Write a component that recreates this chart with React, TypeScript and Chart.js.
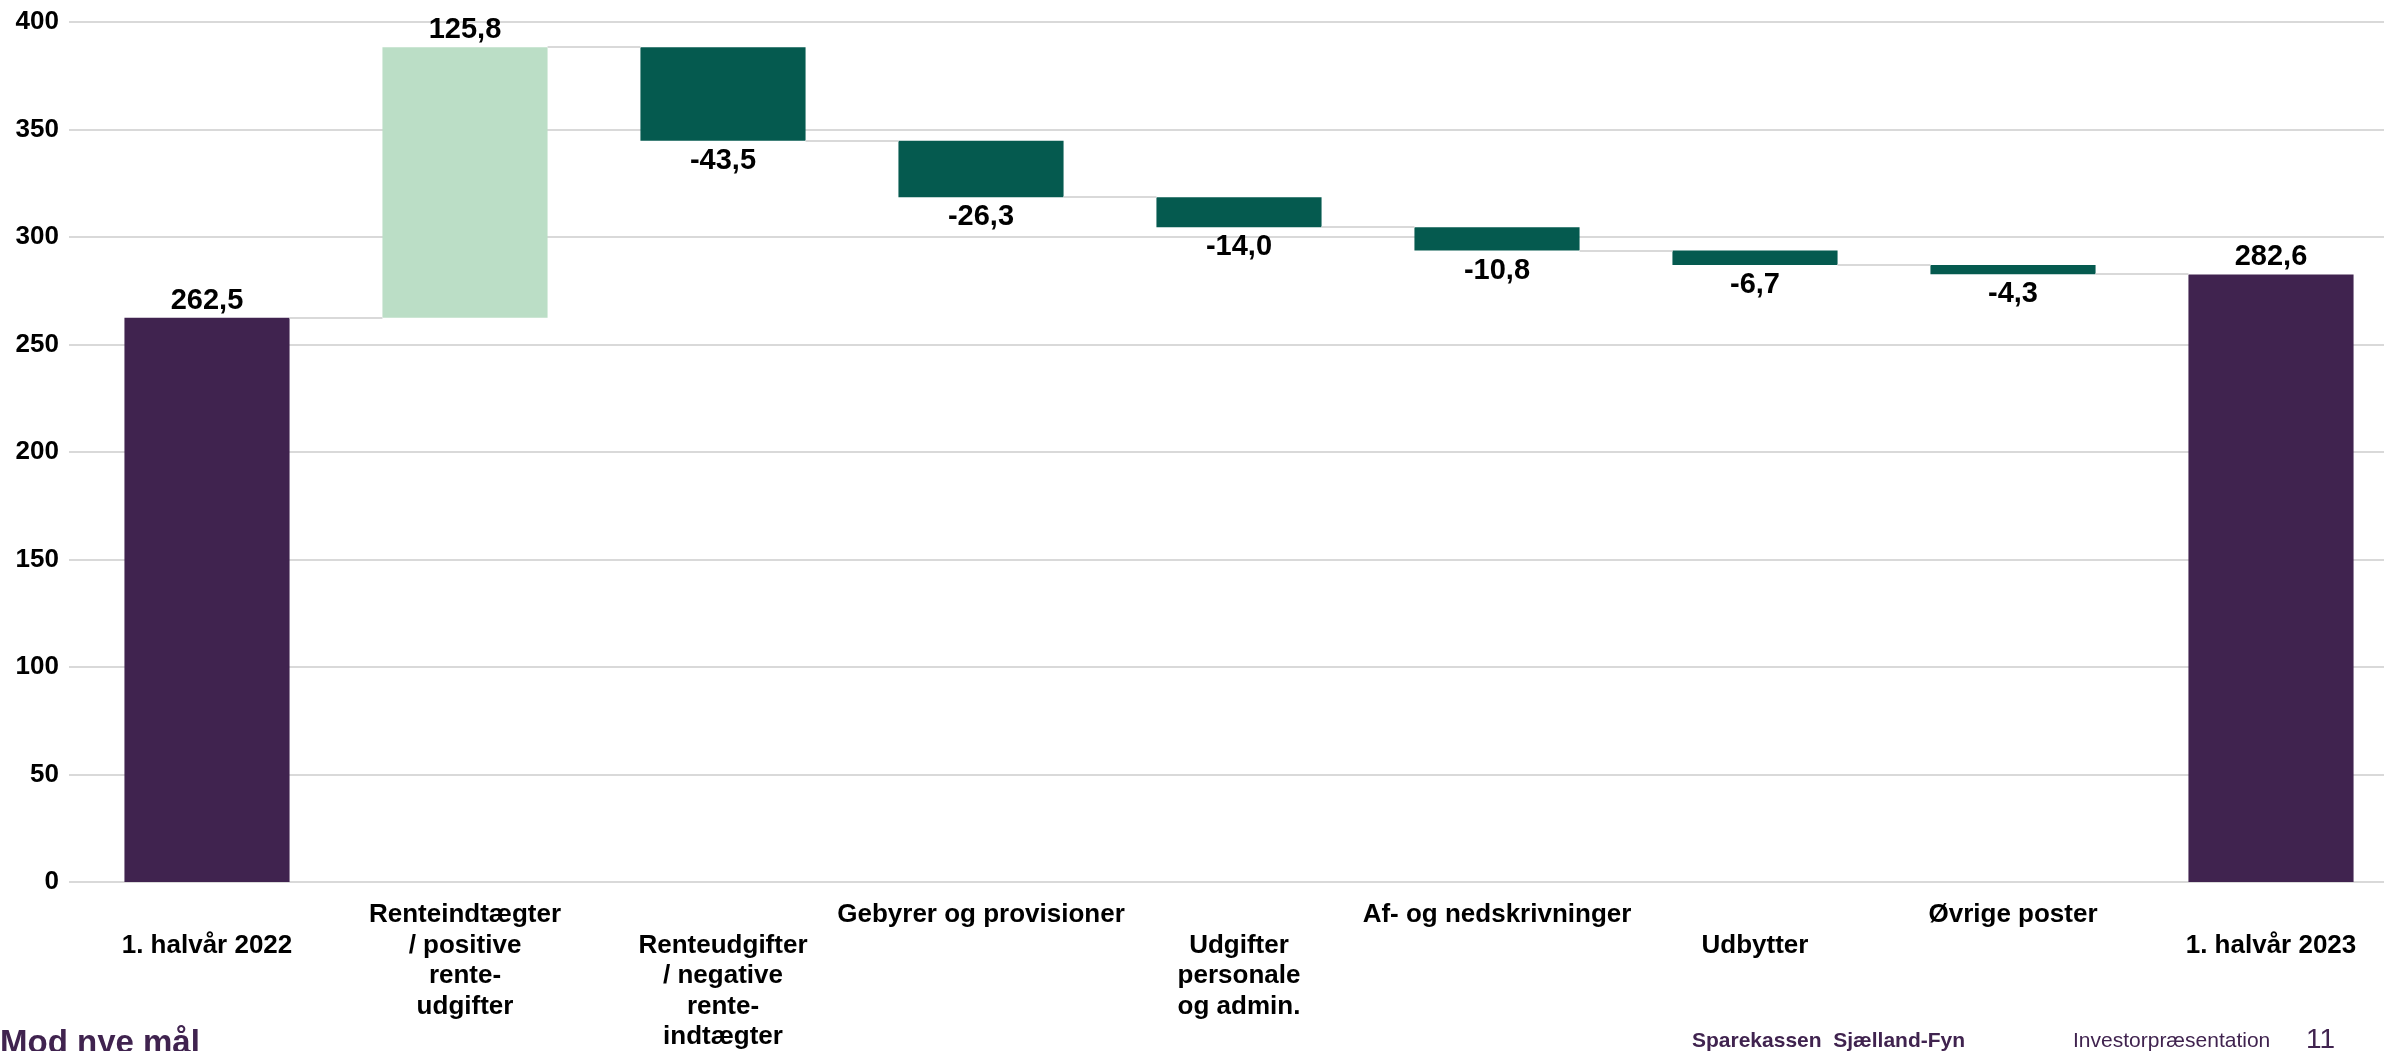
import React, { useEffect, useRef } from "react";
import { Chart, registerables } from "chart.js";

Chart.register(...registerables);

// ---- data ----
const categories: string[][] = [
  ["1. halvår 2022"],
  ["Renteindtægter", "/ positive", "rente-", "udgifter"],
  ["Renteudgifter", "/ negative", "rente-", "indtægter"],
  ["Gebyrer og provisioner"],
  ["Udgifter", "personale", "og admin."],
  ["Af- og nedskrivninger"],
  ["Udbytter"],
  ["Øvrige poster"],
  ["1. halvår 2023"],
];
const values: number[] = [262.5, 125.8, -43.5, -26.3, -14.0, -10.8, -6.7, -4.3, 282.6];
const isTotal: boolean[] = [true, false, false, false, false, false, false, false, true];
const yMin = 0;
const yMax = 400;
const yStep = 50;

// ---- styles ----
const PURPLE = "#40234F";
const LIGHT_GREEN = "#BBDEC6";
const DARK_GREEN = "#055A4F";
const GRID = "#D9D9D9";
const FONT = "'Liberation Sans', Arial, Helvetica, sans-serif";
const GRID_LEFT = 69;

function buildRanges(): [number, number][] {
  let run = 0;
  return values.map((v, i) => {
    if (isTotal[i]) {
      run = v;
      return [0, v] as [number, number];
    }
    const start = run;
    run = run + v;
    return [start, run] as [number, number];
  });
}

function barColor(i: number): string {
  if (isTotal[i]) return PURPLE;
  return values[i] >= 0 ? LIGHT_GREEN : DARK_GREEN;
}

const gridPlugin = {
  id: "wideGrid",
  beforeDatasetsDraw(chart: any) {
    const ctx = chart.ctx;
    const y = chart.scales.y;
    ctx.save();
    ctx.strokeStyle = GRID;
    ctx.lineWidth = 2;
    for (let v = yMin; v <= yMax; v += yStep) {
      const py = Math.round(y.getPixelForValue(v));
      ctx.beginPath();
      ctx.moveTo(GRID_LEFT, py);
      ctx.lineTo(chart.width, py);
      ctx.stroke();
    }
    ctx.restore();
  },
};

const waterfallPlugin = {
  id: "waterfallExtras",
  afterDatasetsDraw(chart: any) {
    const ctx = chart.ctx;
    const meta = chart.getDatasetMeta(0);
    const y = chart.scales.y;
    const ranges = chart.data.datasets[0].data as [number, number][];
    ctx.save();
    ctx.strokeStyle = GRID;
    ctx.lineWidth = 2;
    for (let i = 0; i < meta.data.length - 1; i++) {
      const a = meta.data[i];
      const b = meta.data[i + 1];
      const py = Math.round(y.getPixelForValue(ranges[i][1]));
      ctx.beginPath();
      ctx.moveTo(a.x + a.width / 2, py);
      ctx.lineTo(b.x - b.width / 2, py);
      ctx.stroke();
    }
    ctx.font = `bold 29px ${FONT}`;
    ctx.fillStyle = "#000000";
    ctx.textAlign = "center";
    ctx.textBaseline = "middle";
    meta.data.forEach((bar: any, i: number) => {
      const v = values[i];
      const text = v.toFixed(1).replace(".", ",");
      const [lo, hi] = ranges[i];
      if (v >= 0) {
        ctx.fillText(text, bar.x, y.getPixelForValue(Math.max(lo, hi)) - 17);
      } else {
        ctx.fillText(text, bar.x, y.getPixelForValue(Math.min(lo, hi)) + 20);
      }
    });
    ctx.restore();
  },
};

export default function App() {
  const canvasRef = useRef<HTMLCanvasElement | null>(null);

  useEffect(() => {
    if (!canvasRef.current) return;
    const ranges = buildRanges();
    const chart = new Chart(canvasRef.current, {
      type: "bar",
      data: {
        labels: categories,
        datasets: [
          {
            data: ranges as any,
            backgroundColor: values.map((_, i) => barColor(i)),
            borderWidth: 0,
            barPercentage: 0.64,
            categoryPercentage: 1,
          },
        ],
      },
      options: {
        animation: false,
        responsive: false,
        maintainAspectRatio: false,
        devicePixelRatio: 1,
        layout: { padding: { top: 22, left: 0, right: 0, bottom: 0 } },
        plugins: {
          legend: { display: false },
          tooltip: { enabled: false },
        },
        scales: {
          x: {
            grid: { display: false, drawTicks: false },
            border: { display: false },
            ticks: {
              color: "#000000",
              padding: 18,
              maxRotation: 0,
              minRotation: 0,
              autoSkip: false,
              font: { family: FONT, size: 26, weight: "bold", lineHeight: 1.173 },
              callback: (_v: any, idx: number) =>
                idx % 2 === 0 ? ["", ...categories[idx]] : categories[idx],
            },
            afterFit: (scale: any) => {
              scale.height = 169;
              scale.paddingLeft = 0;
              scale.paddingRight = 0;
            },
          },
          y: {
            min: yMin,
            max: yMax,
            grid: { display: false, drawTicks: false },
            border: { display: false },
            ticks: {
              stepSize: yStep,
              color: "#000000",
              padding: 19,
              font: { family: FONT, size: 26, weight: "bold" },
            },
            afterFit: (scale: any) => {
              scale.width = 78;
              scale.paddingTop = 0;
              scale.paddingBottom = 0;
            },
          },
        },
      },
      plugins: [gridPlugin, waterfallPlugin],
    });
    return () => chart.destroy();
  }, []);

  const footerBase: React.CSSProperties = {
    position: "absolute",
    whiteSpace: "pre",
    color: PURPLE,
    fontFamily: FONT,
    lineHeight: 1,
    margin: 0,
  };

  return (
    <div
      style={{
        position: "fixed",
        left: 0,
        top: 0,
        width: 2384,
        height: 1051,
        overflow: "hidden",
        background: "#ffffff",
      }}
    >
      <canvas ref={canvasRef} width={2400} height={1051} style={{ position: "absolute", left: 0, top: 0 }} />
      <div style={{ ...footerBase, left: 0, top: 1025, fontSize: 33, fontWeight: "bold" }}>Mod nye mål</div>
      <div style={{ ...footerBase, left: 1692, top: 1029, fontSize: 21, fontWeight: "bold" }}>
        Sparekassen  Sjælland-Fyn
      </div>
      <div style={{ ...footerBase, left: 2073, top: 1029, fontSize: 21 }}>Investorpræsentation</div>
      <div style={{ ...footerBase, left: 2306, top: 1025, fontSize: 28 }}>11</div>
    </div>
  );
}
